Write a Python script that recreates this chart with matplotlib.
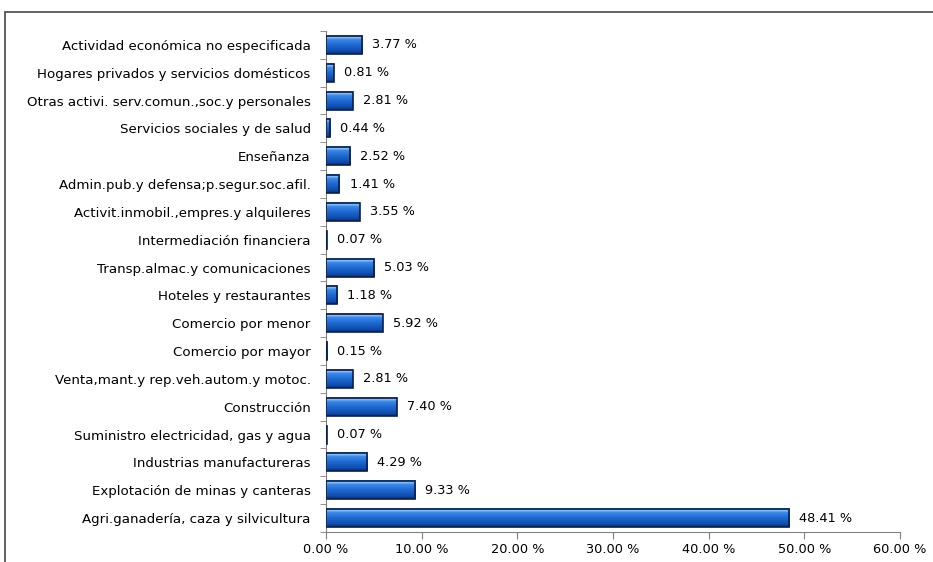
import matplotlib
matplotlib.use("Agg")
import matplotlib.pyplot as plt
import numpy as np
from matplotlib.patches import Rectangle
from matplotlib.colors import LinearSegmentedColormap

categories = [
    "Actividad económica no especificada",
    "Hogares privados y servicios domésticos",
    "Otras activi. serv.comun.,soc.y personales",
    "Servicios sociales y de salud",
    "Enseñanza",
    "Admin.pub.y defensa;p.segur.soc.afil.",
    "Activit.inmobil.,empres.y alquileres",
    "Intermediación financiera",
    "Transp.almac.y comunicaciones",
    "Hoteles y restaurantes",
    "Comercio por menor",
    "Comercio por mayor",
    "Venta,mant.y rep.veh.autom.y motoc.",
    "Construcción",
    "Suministro electricidad, gas y agua",
    "Industrias manufactureras",
    "Explotación de minas y canteras",
    "Agri.ganadería, caza y silvicultura",
]
values = [3.77, 0.81, 2.81, 0.44, 2.52, 1.41, 3.55, 0.07, 5.03, 1.18,
          5.92, 0.15, 2.81, 7.40, 0.07, 4.29, 9.33, 48.41]
xticks = [0, 10, 20, 30, 40, 50, 60]

plt.rcParams['font.family'] = ['DejaVu Sans']
fig = plt.figure(figsize=(9.33, 5.62), dpi=100)
ax = fig.add_axes([326/933, 1-532/562, (900-326)/933, (532-31)/562])

n = len(categories)
ypos = np.arange(n)[::-1]
bh = 0.65

grad = np.linspace(0, 1, 64).reshape(-1, 1)
cmap = LinearSegmentedColormap.from_list(
    "bar", [(0, "#08306e"), (0.15, "#0f4cae"), (0.5, "#1f6ad2"),
            (0.78, "#3d8ae8"), (0.88, "#8cc4f8"), (1.0, "#4a90e6")])
for y, v in zip(ypos, values):
    ax.imshow(grad, extent=[0, v, y - bh/2, y + bh/2], aspect='auto',
              cmap=cmap, origin='lower', zorder=2, interpolation='bilinear')
    ax.add_patch(Rectangle((0, y - bh/2), v, bh, fill=False,
                           edgecolor="#0a1f4a", linewidth=1.2, zorder=3))
    ax.text(v + 1.05, y, f"{v:.2f} %", va='center', ha='left', fontsize=9.3,
            color='black', zorder=4)

ax.set_xlim(0, 60)
ax.set_ylim(-0.5, n - 0.5)
ax.set_xticks(xticks)
ax.set_xticklabels([f"{t:.2f} %" for t in xticks], fontsize=9.3)
ax.set_yticks(ypos)
ax.set_yticklabels(categories, fontsize=9.6)
ax.set_yticks(np.arange(-0.5, n, 1), minor=True)
ax.tick_params(axis='y', which='major', length=0, pad=11)
ax.tick_params(axis='y', which='minor', length=4, color='#808080', direction='out')
ax.tick_params(axis='x', length=5, color='#808080', pad=3)
for s in ['top', 'right']:
    ax.spines[s].set_visible(False)
for s in ['left', 'bottom']:
    ax.spines[s].set_color('#808080')
ax.set_aspect('auto')

# outer frame
fig.patches.append(Rectangle((5/933, -0.1), 1.2, 1.1 - 12/562,
                             transform=fig.transFigure, fill=False,
                             edgecolor='#555555', linewidth=1.3))

fig.savefig("out.png", dpi=100)
